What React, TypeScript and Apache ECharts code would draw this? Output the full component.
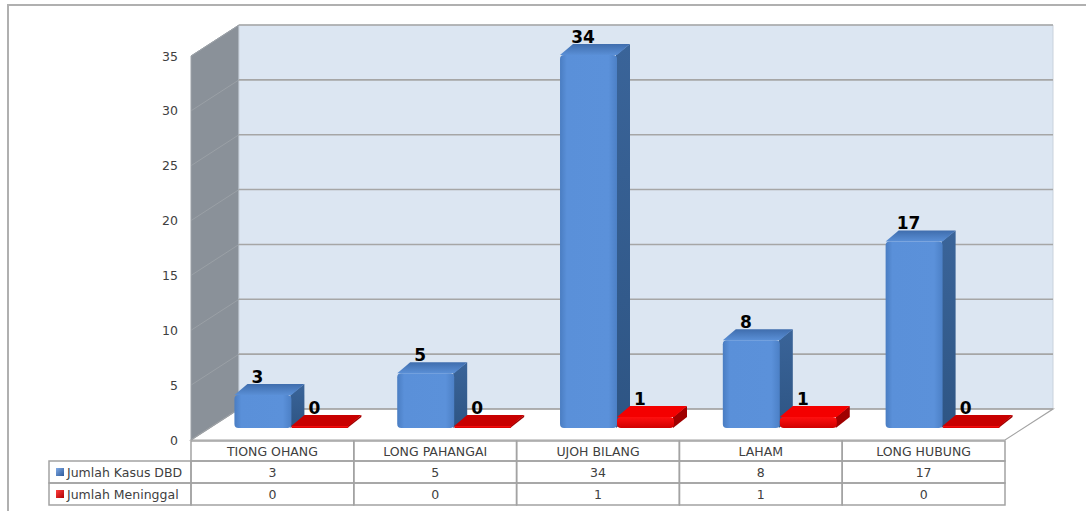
import React, { useEffect, useRef } from "react";
import * as echarts from "echarts";

const categories = ["TIONG OHANG", "LONG PAHANGAI", "UJOH BILANG", "LAHAM", "LONG HUBUNG"];
const kasusDBD = [3, 5, 34, 8, 17];
const meninggal = [0, 0, 1, 1, 0];
const seriesNames = ["Jumlah Kasus DBD", "Jumlah Meninggal"];
const yTicks = [0, 5, 10, 15, 20, 25, 30, 35];

const WALL_DX = 48;
const WALL_DY = -31;
const BAR_OFF_DX = 19;
const BAR_OFF_DY = -12;
const BAR_DX = 13;
const BAR_DY = -11;
const BAR_FRAC = 0.35;
const FONT = "'DejaVu Sans', Verdana, sans-serif";
const TXT = "#404040";
const LINE = "#A3A3A3";

function lin(x2: number, y2: number, stops: [number, string][]) {
  return new echarts.graphic.LinearGradient(0, 0, x2, y2, stops.map(([o, c]) => ({ offset: o, color: c })));
}

function frameRender(params: any, api: any) {
  const cs = params.coordSys;
  const x0 = cs.x;
  const x1 = cs.x + cs.width;
  const y0 = api.coord([0, yTicks[0]])[1];
  const yTop = api.coord([0, yTicks[yTicks.length - 1]])[1];
  const children: any[] = [];
  children.push({
    type: "polygon",
    shape: { points: [[x0, yTop], [x0 + WALL_DX, yTop + WALL_DY], [x0 + WALL_DX, y0 + WALL_DY], [x0, y0]] },
    style: { fill: "#8A9199", stroke: "#9CA2A8", lineWidth: 1 },
  });
  children.push({
    type: "rect",
    shape: { x: x0 + WALL_DX, y: yTop + WALL_DY, width: x1 - x0, height: y0 - yTop },
    style: { fill: "#DCE6F2", stroke: "#C9D2DC", lineWidth: 1 },
  });
  children.push({
    type: "polygon",
    shape: { points: [[x0, y0], [x0 + WALL_DX, y0 + WALL_DY], [x1 + WALL_DX, y0 + WALL_DY], [x1, y0]] },
    style: { fill: "#FFFFFF", stroke: LINE, lineWidth: 1.2 },
  });
  yTicks.forEach((v) => {
    const y = api.coord([0, v])[1];
    children.push({
      type: "line",
      shape: { x1: x0 + WALL_DX, y1: y + WALL_DY, x2: x1 + WALL_DX, y2: y + WALL_DY },
      style: { stroke: "#A6A6A6", lineWidth: 1.6 },
    });
    children.push({
      type: "line",
      shape: { x1: x0, y1: y, x2: x0 + WALL_DX, y2: y + WALL_DY },
      style: { stroke: "#9AA0A6", lineWidth: 1 },
    });
  });
  return { type: "group", children };
}

function makeBarRender(s: number) {
  return function (params: any, api: any) {
    const idx = api.value(0);
    const v = api.value(1);
    const band = api.size([1, 0])[0];
    const c = api.coord([idx, 0]);
    const t = api.coord([idx, v]);
    const w = band * BAR_FRAC;
    const L = c[0] + (s === 0 ? -w : 0) + BAR_OFF_DX;
    const R = L + w;
    const B = c[1] + BAR_OFF_DY;
    let T = t[1] + BAR_OFF_DY;
    if (B - T < 2) T = B - 2;
    const blue = s === 0;
    const front = blue
      ? lin(1, 0, [[0, "#4A7DC2"], [0.12, "#5A90D9"], [0.85, "#5B91DA"], [1, "#4C80C6"]])
      : lin(0, 1, [[0, "#FF1010"], [1, "#D00000"]]);
    const side = blue ? lin(0, 1, [[0, "#3A6499"], [1, "#2E5584"]]) : "#A00000";
    const topC = blue ? lin(0, 1, [[0, "#3F6DAD"], [1, "#5A8FD6"]]) : v === 0 ? "#C80000" : "#F40000";
    const children: any[] = [
      {
        type: "polygon",
        shape: { points: [[R - 1, T], [R + BAR_DX, T + BAR_DY], [R + BAR_DX, B + BAR_DY], [R - 1, B]] },
        style: { fill: side },
      },
      {
        type: "polygon",
        shape: { points: [[L, T], [L + BAR_DX, T + BAR_DY], [R + BAR_DX, T + BAR_DY], [R, T]] },
        style: { fill: topC },
      },
      {
        type: "rect",
        shape: { x: L, y: T, width: w, height: B - T, r: B - T > 8 ? 4 : 1 },
        style: { fill: front },
      },
      {
        type: "text",
        x: L + 23,
        y: T - 18,
        style: {
          text: String(v),
          fill: "#000000",
          font: `bold 17px ${FONT}`,
          align: "center",
          verticalAlign: "middle",
        },
      },
    ];
    return { type: "group", children };
  };
}

function tableRender(params: any, api: any) {
  const idx = api.value(0);
  const band = api.size([1, 0])[0];
  const c = api.coord([idx, 0]);
  const xL = c[0] - band / 2;
  const y0 = c[1] + 1;
  const rows = [
    { y: y0, h: 20, text: categories[idx] },
    { y: y0 + 20, h: 22, text: String(api.value(1)) },
    { y: y0 + 42, h: 22, text: String(api.value(2)) },
  ];
  const children: any[] = [];
  rows.forEach((r) => {
    children.push({
      type: "rect",
      shape: { x: xL, y: r.y, width: band, height: r.h },
      style: { fill: "none", stroke: LINE, lineWidth: 1.5 },
    });
    children.push({
      type: "text",
      x: c[0],
      y: r.y + r.h / 2,
      style: {
        text: r.text,
        fill: TXT,
        font: `12.5px ${FONT}`,
        align: "center",
        verticalAlign: "middle",
      },
    });
  });
  return { type: "group", children };
}

export default function App() {
  const ref = useRef<HTMLDivElement>(null);
  useEffect(() => {
    if (!ref.current) return;
    const chart = echarts.init(ref.current, undefined, { renderer: "svg" });
    const legendColors = [
      lin(1, 1, [[0, "#7FAAE6"], [1, "#2F5B9A"]]),
      lin(1, 1, [[0, "#FF4040"], [1, "#B00000"]]),
    ];
    const legendGraphic: any[] = [
      {
        type: "rect",
        shape: { x: 8, y: 5, width: 1100, height: 520 },
        style: { fill: "none", stroke: "#B0B0B0", lineWidth: 2 },
        z: -10,
      },
    ];
    seriesNames.forEach((name, i) => {
      const y = 461 + i * 22;
      legendGraphic.push({
        type: "rect",
        shape: { x: 49, y, width: 142, height: 22 },
        style: { fill: "none", stroke: LINE, lineWidth: 1.5 },
      });
      legendGraphic.push({
        type: "rect",
        shape: { x: 56, y: y + 7, width: 8, height: 8 },
        style: { fill: legendColors[i] },
      });
      legendGraphic.push({
        type: "text",
        x: 67,
        y: y + 11,
        style: { text: name, fill: TXT, font: `12.5px ${FONT}`, align: "left", verticalAlign: "middle" },
      });
    });
    chart.setOption({
      animation: false,
      backgroundColor: "#FFFFFF",
      grid: { left: 191, right: 81, top: 56, bottom: 71 },
      xAxis: {
        type: "category",
        data: categories,
        axisLine: { show: false },
        axisTick: { show: false },
        axisLabel: { show: false },
        splitLine: { show: false },
      },
      yAxis: {
        type: "value",
        min: 0,
        max: 35,
        interval: 5,
        axisLine: { show: false },
        axisTick: { show: false },
        splitLine: { show: false },
        axisLabel: { color: TXT, fontFamily: FONT, fontSize: 12.5, margin: 13 },
      },
      graphic: legendGraphic,
      series: [
        {
          type: "custom",
          name: "frame",
          silent: true,
          data: [[0, 0]],
          encode: { x: 0, y: 1 },
          renderItem: frameRender,
          z: 1,
        },
        {
          type: "custom",
          name: seriesNames[0],
          silent: true,
          data: kasusDBD.map((v, i) => [i, v]),
          encode: { x: 0, y: 1 },
          renderItem: makeBarRender(0),
          z: 2,
        },
        {
          type: "custom",
          name: seriesNames[1],
          silent: true,
          data: meninggal.map((v, i) => [i, v]),
          encode: { x: 0, y: 1 },
          renderItem: makeBarRender(1),
          z: 3,
        },
        {
          type: "custom",
          name: "table",
          silent: true,
          data: categories.map((_, i) => [i, kasusDBD[i], meninggal[i]]),
          encode: { x: 0, y: 1 },
          renderItem: tableRender,
          z: 4,
        },
      ],
    });
    return () => chart.dispose();
  }, []);
  return (
    <div
      ref={ref}
      style={{ position: "fixed", left: 0, top: 0, width: 1086, height: 511 }}
    />
  );
}
